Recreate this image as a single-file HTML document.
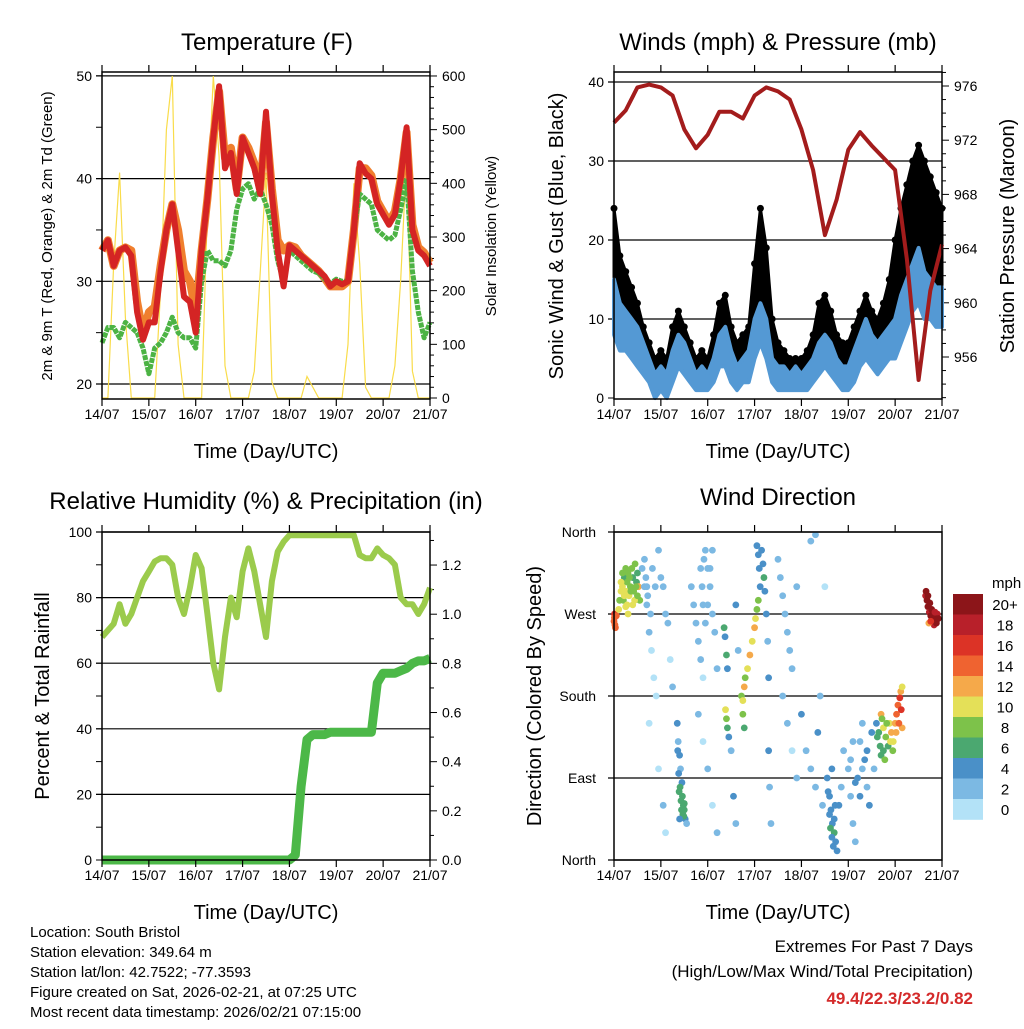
<!DOCTYPE html>
<html><head><meta charset="utf-8"><style>
html,body{margin:0;padding:0;background:#fff}
svg text{font-family:"Liberation Sans",Arial,sans-serif;fill:#000}
</style></head><body>
<svg id="c" xmlns="http://www.w3.org/2000/svg" width="1024" height="1024" viewBox="0 0 1024 1024"></svg>
<script>
const dayLabels=['14/07','15/07','16/07','17/07','18/07','19/07','20/07','21/07'];
const tempRed=[33,34,31.5,33,33.3,32.5,27,24.3,26,26,31,35,37.5,33,28.5,28,25,33,38,44,49,41,42.5,38.5,44,42.5,41,38.5,46.5,38.5,33,29.5,33.5,33,32.5,32,31.5,31,30.5,29.5,30,29.7,30,35,41.5,40.5,40,37.5,36.5,35.5,36.5,40,45,35,33,32.5,31.5];
const tempOrange=[33,34,31.5,33,33.3,33,28,25,27,27.5,31.5,35,37.5,35,31,30,27,33,38,44,48.5,42,43,39,44,43,41.5,39,45.5,39,34,33,33.5,33.3,32.5,32,31.5,31,30.3,29.5,29.5,29.5,30,35,41,41,40.3,37.8,36.8,35.8,36.8,40,44.5,35.5,33.3,32.8,31.8];
const dewGreen=[24,25.5,25.5,24.5,26,25.5,25,23.5,21,23.5,24,25,26.5,25,24.5,24.5,23.5,30,33,32,32,31.5,33,37,39,39.5,38,39,37.5,35.5,32,30,33,32.5,32,31.5,31,30.8,30.2,29.8,30.2,30,30,35,38.5,38,37.5,35,34.5,34,34.5,37,40,31,27,24.5,26];
const solar=[0,0,250,420,150,0,0,0,0,0,200,500,600,100,0,0,0,0,350,600,450,60,0,0,0,0,50,230,420,30,0,0,0,0,0,40,20,0,0,0,0,0,100,400,250,20,0,0,0,0,60,220,450,50,0,0,0];
const windSpd=[15,12,11,10,9,7,5,3,4,3,6,8,7,5,3,4,3,5,8,9,6,4,5,6,10,12,10,5,4,4,3,4,3,4,5,7,8,7,5,4,4,6,8,10,8,7,8,9,10,13,15,17,19,16,15,14,14];
const windLo=[8,6,6,5,4,3,2,0,1,0,2,4,3,2,1,1,1,2,4,4,2,1,2,2,5,7,5,2,1,1,1,1,1,1,2,3,4,3,2,1,1,2,4,5,4,3,4,5,5,7,9,11,12,10,10,9,9];
const windGust=[24,18,16,14,12,9,7,5,6,5,9,11,9,7,5,6,5,8,12,13,9,7,8,9,17,24,19,10,7,6,5,5,5,6,8,12,13,11,8,7,7,9,11,13,11,10,12,15,20,24,27,30,32,30,28,26,24];
const pressure=[973.3,974.2,975.9,976.1,975.9,975.3,972.8,971.4,972.4,974.1,974.1,973.6,975.3,975.9,975.6,975.0,972.8,969.8,965.0,967.6,971.3,972.6,971.6,970.7,969.8,963.2,954.3,960.9,964.3];
const rh=[68,70,72,78,72,75,80,85,88,91,92,92,90,80,75,83,93,89,75,60,52,68,80,74,88,95,88,78,68,85,94,97,99,99,99,99,99,99,99,99,99,99,99,99,93,92,92,95,93,92,90,80,78,78,75,78,83];
const precip=[0,0,0,0,0,0,0,0,0,0,0,0,0,0,0,0,0,0,0,0,0,0,0,0,0,0,0,0,0,0,0,0,0,0.02,0.3,0.49,0.51,0.51,0.51,0.52,0.52,0.52,0.52,0.52,0.52,0.52,0.52,0.72,0.76,0.76,0.76,0.77,0.78,0.8,0.81,0.81,0.82];
const dirT=[0,0.01,0.02,0.01,0.1,0.12,0.15,0.18,0.2,0.22,0.25,0.28,0.3,0.32,0.35,0.38,0.4,0.42,0.45,0.48,0.5,0.52,0.55,0.4,0.6,0.65,0.7,0.75,0.8,0.85,0.9,0.95,1.0,1.05,1.1,1.15,1.2,1.25,0.95,1.05,1.1,0.75,1.35,1.37,1.4,1.42,1.45,1.46,1.48,1.5,1.52,1.55,1.65,1.7,1.75,1.8,1.85,1.9,1.95,2.0,2.05,2.1,2.15,2.2,1.8,1.9,2.0,2.1,2.2,2.35,2.37,2.4,2.42,2.38,2.4,2.42,2.45,2.5,2.55,2.6,2.6,2.65,2.72,2.75,2.78,2.8,2.85,2.9,2.95,3.0,3.02,3.05,3.08,2.75,2.78,3.15,3.18,3.2,3.22,3.25,3.28,3.3,3.3,3.32,3.35,3.5,3.55,3.6,3.65,3.7,3.75,3.8,3.6,3.7,3.8,3.9,3.9,4.0,4.1,4.2,4.3,4.35,4.4,4.45,4.2,4.3,4.5,4.55,4.6,4.63,4.66,4.7,4.73,4.76,4.8,4.85,4.65,4.9,5.0,5.05,5.1,5.15,5.2,5.25,5.3,5.35,5.4,5.45,5.5,5.55,5.6,5.65,5.7,5.72,5.75,5.8,5.85,5.88,5.92,5.96,6.0,6.03,6.06,6.1,6.12,6.15,6.65,6.68,6.7,6.73,6.76,6.8,6.83,6.86,6.9,6.72,
0.15,0.18,0.22,0.25,0.28,0.33,0.36,0.44,0.47,0.5,0.3,0.25,0.05,0.03,
0.65,0.68,0.7,0.72,0.78,0.82,0.88,
1.36,1.38,1.41,1.43,1.44,1.47,1.49,1.5,1.4,1.39,
1.85,1.88,1.9,1.92,1.95,2.0,2.05,2.1,
3.05,3.08,3.1,3.12,
4.57,4.6,4.62,4.65,4.68,4.7,4.72,
5.05,5.1,5.15,5.25,5.3,5.4,
5.62,5.68,5.75,5.82,5.9,5.95,6.02,6.08,6.13,6.15,5.7,5.78,
6.66,6.7,6.74,6.78,6.82,6.85,6.88,6.92,6.76];
const dirD=[262,270,258,266,275,285,295,300,285,310,295,305,315,290,300,320,310,295,325,305,315,300,285,280,320,300,280,250,230,200,180,340,310,300,270,260,220,190,100,60,30,150,150,130,115,100,85,70,60,55,45,40,300,280,260,240,220,200,340,320,300,270,250,210,160,130,100,60,30,255,245,225,210,165,155,145,135,120,70,40,280,230,180,175,190,200,210,225,240,255,265,275,285,160,145,340,325,310,295,270,240,200,120,80,40,330,310,290,270,250,230,210,180,150,120,90,300,160,120,100,80,140,180,60,350,357,300,90,70,55,40,30,20,10,60,80,100,120,100,70,40,20,90,130,150,110,80,60,140,100,150,140,160,155,145,135,125,150,140,130,150,160,170,178,185,145,290,285,278,272,268,262,258,265,270,260,
305,315,290,320,280,310,295,285,300,290,270,278,268,255,
330,310,300,290,270,320,300,
120,95,80,65,55,50,48,62,45,75,
320,300,280,330,260,280,320,340,
345,335,320,300,
75,50,35,25,15,45,60,
110,130,85,70,100,120,
135,125,120,150,130,120,140,150,165,190,115,110,
295,290,282,275,270,272,260,265,262];
const dirS=[15,16,14,15,10,9,11,10,8,7,10,9,8,11,9,8,7,9,8,7,7,12,8,10,3,2,3,2,1,1,1,3,2,3,2,3,1,2,1,2,1,1,4,3,4,3,4,6,6,6,4,3,2,3,3,2,2,1,2,3,3,2,3,2,3,1,2,1,2,6,4,6,4,10,8,6,4,3,4,3,4,3,8,10,12,8,10,12,11,12,10,8,8,8,6,4,4,6,4,4,3,4,4,3,3,2,3,2,2,3,2,2,3,2,1,2,2,4,3,2,2,4,2,3,2,2,1,4,4,5,4,6,4,4,4,3,4,2,3,2,3,2,4,3,2,4,3,4,4,3,4,6,12,8,10,8,6,10,12,10,13,14,15,16,12,13,18,20,20,19,20,20,18,20,19,12,
10,9,11,8,10,9,8,10,8,9,10,11,14,15,
3,2,2,3,2,3,2,
4,4,6,6,6,6,6,6,4,6,
2,3,3,2,3,2,3,2,
4,4,4,5,
4,4,6,4,4,4,4,
3,3,4,4,3,4,
6,6,6,8,10,8,12,14,16,10,6,8,
20,20,20,20,20,19,20,20,16];
const speedColors=['#b3e2f7','#7cb9e3','#4a90c8','#4ba870','#7dc24a','#e4e058','#f5a94a','#ef6330','#dc3326','#b8202a','#8c1519'];
const legendLabels=['0','2','4','6','8','10','12','14','16','18','20+'];

const NS='http://www.w3.org/2000/svg';
const svg=document.getElementById('c');
function mk(tag,attrs,parent){const e=document.createElementNS(NS,tag);for(const k in attrs)e.setAttribute(k,attrs[k]);(parent||svg).appendChild(e);return e;}
function txt(s,x,y,size,anchor,parent,rot){const e=mk('text',{x:x,y:y,'font-size':size,'text-anchor':anchor||'middle'},parent);if(rot)e.setAttribute('transform','rotate(-90 '+x+' '+y+')');e.textContent=s;return e;}

const P1={x0:102,x1:430,y0:72,y1:399},P2={x0:614,x1:942,y0:72,y1:399},P3={x0:102,x1:430,y0:532,y1:860},P4={x0:614,x1:942,y0:532,y1:860};
function xs(P,t){return P.x0+t*(P.x1-P.x0)/7;}
const yT=v=>384-(v-20)*10.27, yS=v=>398-v*0.5367, yW=v=>398-v*7.9, yP=p=>86+(976-p)*13.55, yR=v=>860-v*3.28, yPr=v=>860-v*245.8, yD=d=>860-d*(328/360);

function frame(P,name){
  const g=mk('g',{});
  
  
  return g;
}
function box(P,g){
  const r=mk('rect',{x:P.x0,y:P.y0,width:P.x1-P.x0,height:P.y1-P.y0,fill:'none',stroke:'#000','stroke-width':1.5},g);
  
  
  for(let i=0;i<8;i++){const x=xs(P,i);
    mk('line',{x1:x,x2:x,y1:P.y1,y2:P.y1+7,stroke:'#000','stroke-width':1.2},g);
    mk('line',{x1:x,x2:x,y1:P.y0,y2:P.y0-7,stroke:'#000','stroke-width':1.2},g);
    const t=txt(dayLabels[i],x,P.y1+20,14,'middle',g);
    
    }
  const xt=txt('Time (Day/UTC)',(P.x0+P.x1)/2,P.y1+59,20,'middle',g);
  
  
}
function grid(P,y,g){mk('line',{x1:P.x0-6,x2:P.x1,y1:y,y2:y,stroke:'#000','stroke-width':1.2},g);}
function leftTick(P,y,lab,g,size){mk('line',{x1:P.x0-6,x2:P.x0,y1:y,y2:y,stroke:'#000'},g);if(lab!==null){const t=txt(lab,P.x0-10,y+5,size||14,'end',g);}}
function rightTick(P,y,lab,g,len){mk('line',{x1:P.x1,x2:P.x1+(len||7),y1:y,y2:y,stroke:'#000'},g);if(lab!==null){const t=txt(lab,P.x1+12,y+5,14,'start',g);}}
function path(arr,P,yf,step){return arr.map((v,i)=>(i?'L':'M')+xs(P,i*step).toFixed(1)+','+yf(v).toFixed(1)).join('');}
function band(lo,hi,P,yf,step){const a=hi.map((v,i)=>xs(P,i*step).toFixed(1)+','+yf(v).toFixed(1));const b=lo.map((v,i)=>xs(P,i*step).toFixed(1)+','+yf(v).toFixed(1)).reverse();return 'M'+a.join('L')+'L'+b.join('L')+'Z';}

// ===== Panel 1 Temperature
const g1=frame(P1,'temperature-panel');
const t1=txt('Temperature (F)',267,50,24,'middle',g1);


[20,30,40,50].forEach(v=>{grid(P1,yT(v),g1);leftTick(P1,yT(v),String(v),g1);});
[25,35,45].forEach(v=>leftTick(P1,yT(v),null,g1));
for(let v=0;v<=600;v+=20){rightTick(P1,yS(v),v%100===0?String(v):null,g1,v%100===0?7:4);}
const sol=mk('path',{d:path(solar,P1,yS,0.125),fill:'none',stroke:'#f9dc4a','stroke-width':1.2},g1);


const or=mk('path',{d:path(tempOrange,P1,yT,0.125),fill:'none',stroke:'#f07f2e','stroke-width':8,'stroke-linejoin':'round'},g1);


const dw=mk('path',{d:path(dewGreen,P1,yT,0.125),fill:'none',stroke:'#4cb344','stroke-width':5,'stroke-dasharray':'5 1','stroke-linejoin':'round'},g1);


const rd=mk('path',{d:path(tempRed,P1,yT,0.125),fill:'none',stroke:'#d42424','stroke-width':6,'stroke-linejoin':'round'},g1);


box(P1,g1);
const y1l=txt('2m & 9m T (Red, Orange) & 2m Td (Green)',52,236,15,'middle',g1,true);


const y1r=txt('Solar Insolation (Yellow)',496,236,15,'middle',g1,true);



// ===== Panel 2 Winds
const g2=frame(P2,'winds-panel');
const t2=txt('Winds (mph) & Pressure (mb)',778,50,24,'middle',g2);


[0,10,20,30,40].forEach(v=>{if(v)grid(P2,yW(v),g2);leftTick(P2,yW(v),String(v),g2);});
for(let p=953;p<=977;p++){const y=yP(p);if(y<P2.y0||y>P2.y1)continue;rightTick(P2,y,p%4===0?String(p):null,g2,p%4===0?7:4);}
const wgb=mk('path',{d:band(windSpd,windGust,P2,yW,0.125),fill:'#000',stroke:'#000','stroke-width':3,'stroke-linejoin':'round'},g2);


windGust.forEach((v,i)=>{const c=mk('circle',{cx:xs(P2,i*0.125),cy:yW(v),r:3.5,fill:'#000'},g2);

});
const ws=mk('path',{d:band(windLo,windSpd,P2,yW,0.125),fill:'#5499d4',stroke:'#5499d4','stroke-width':4,'stroke-linejoin':'round'},g2);


const pr=mk('path',{d:path(pressure,P2,yP,0.25),fill:'none',stroke:'#a31c1c','stroke-width':4,'stroke-linejoin':'round'},g2);


box(P2,g2);
const y2l=txt('Sonic Wind & Gust (Blue, Black)',563,236,20,'middle',g2,true);


const y2r=txt('Station Pressure (Maroon)',1014,236,20,'middle',g2,true);



// ===== Panel 3 RH
const g3=frame(P3,'humidity-panel');
const t3=txt('Relative Humidity (%) & Precipitation (in)',266,509,24,'middle',g3);


[0,20,40,60,80,100].forEach(v=>{if(v)grid(P3,yR(v),g3);leftTick(P3,yR(v),String(v),g3);});
[10,30,50,70,90].forEach(v=>leftTick(P3,yR(v),null,g3));
for(let k=0;k<=13;k++){const v=k/10;rightTick(P3,yPr(v),k%2===0?v.toFixed(1):null,g3,k%2===0?7:4);}
const rhl=mk('path',{d:path(rh,P3,yR,0.125),fill:'none',stroke:'#9bcb4c','stroke-width':6,'stroke-linejoin':'round'},g3);


const pcl=mk('path',{d:path(precip,P3,yPr,0.125),fill:'none',stroke:'#4cb848','stroke-width':9,'stroke-linejoin':'round'},g3);


box(P3,g3);
const y3l=txt('Percent & Total Rainfall',49,696,20,'middle',g3,true);



// ===== Panel 4 Wind Direction
const g4=frame(P4,'wind-direction-panel');
const t4=txt('Wind Direction',778,505,24,'middle',g4);


const dirLabs=['North','East','South','West','North'];
[0,90,180,270,360].forEach((d,i)=>{const y=yD(d);if(d>0&&d<360)grid(P4,y,g4);else mk('line',{x1:P4.x0-6,x2:P4.x1,y1:y,y2:y,stroke:'#000','stroke-width':1.2},g4);
const t=txt(dirLabs[i],P4.x0-18,y+5,14,'end',g4);

});
function spColor(s){return speedColors[Math.min(10,Math.floor(s/2))];}
dirT.forEach((t,i)=>{const c=mk('circle',{cx:xs(P4,t),cy:yD(dirD[i]),r:3.4,fill:spColor(dirS[i])},g4);

});
box(P4,g4);
const y4l=txt('Direction (Colored By Speed)',541,696,20,'middle',g4,true);


const lg=mk('g',{},g4);


const lt=txt('mph',992,588,15,'start',lg);


for(let k=0;k<11;k++){const idx=10-k;const y=594+k*20.5;
const r=mk('rect',{x:953,y:y,width:30,height:20.8,fill:speedColors[idx]},lg);


const t=txt(legendLabels[idx],1005,y+16,15,'middle',lg);

}

// ===== Footer
const ft=mk('g',{});


['Location: South Bristol','Station elevation: 349.64 m','Station lat/lon: 42.7522; -77.3593','Figure created on Sat, 2026-02-21, at 07:25 UTC','Most recent data timestamp: 2026/02/21 07:15:00'].forEach((s,i)=>{
const t=txt(s,30,937+i*20,15,'start',ft);

});
const ex=mk('g',{});


const e1=txt('Extremes For Past 7 Days',973,952,17,'end',ex);


const e2=txt('(High/Low/Max Wind/Total Precipitation)',973,977,17,'end',ex);


const e3=txt('49.4/22.3/23.2/0.82',973,1004,17,'end',ex);
e3.setAttribute('style','fill:#d42a2a;font-weight:bold');


</script>
</body></html>
